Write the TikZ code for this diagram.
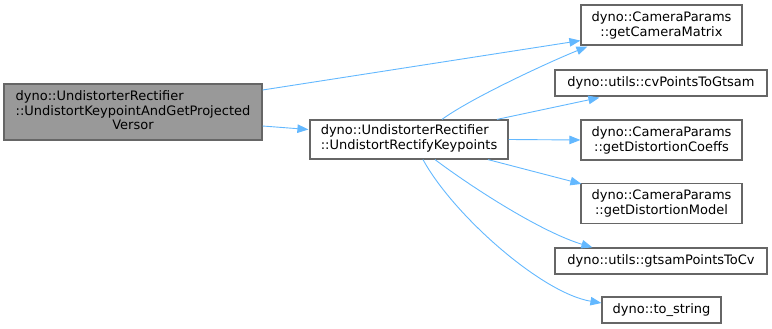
\documentclass[tikz,border=0pt]{standalone}
\usepackage{fontspec}
\setmainfont{DejaVu Sans}
\usetikzlibrary{arrows.meta,calc}
\definecolor{edgeblue}{HTML}{63B8FF}
\definecolor{boxline}{HTML}{666666}
\definecolor{startfill}{HTML}{999999}

\begin{document}
\begin{tikzpicture}[x=1pt,y=-1pt,
  fn/.style={draw=boxline,line width=1.2pt,fill=white,inner sep=0pt,
    font=\fontsize{13}{15}\selectfont,align=center},
  call/.style={draw=edgeblue,line width=0.9pt,
    -{Triangle[length=11pt,width=8.5pt]}}]
\useasboundingbox (0,0) rectangle (772,329);

% caller and callee boxes
\node[fn,fill=startfill,minimum width=258pt,minimum height=56pt] (start) at (133,112)
  {\begin{tabular}{@{}l@{}}dyno::UndistorterRectifier\\::UndistortKeypointAndGetProjected\\\multicolumn{1}{@{}c@{}}{Versor}\end{tabular}};
\node[fn,minimum width=198pt,minimum height=39pt] (mid) at (409,139.5)
  {\begin{tabular}{@{}l@{}}dyno::UndistorterRectifier\\\multicolumn{1}{@{}c@{}}{::UndistortRectifyKeypoints}\end{tabular}};
\node[fn,minimum width=161pt,minimum height=40pt] (cam) at (661.5,25)
  {dyno::CameraParams\\::getCameraMatrix};
\node[fn,minimum width=212pt,minimum height=26pt] (cv) at (661,83)
  {dyno::utils::cvPointsToGtsam};
\node[fn,minimum width=161pt,minimum height=40pt] (coeffs) at (661.5,140)
  {dyno::CameraParams\\::getDistortionCoeffs};
\node[fn,minimum width=161pt,minimum height=40pt] (model) at (661.5,203.5)
  {dyno::CameraParams\\::getDistortionModel};
\node[fn,minimum width=212pt,minimum height=26pt] (gts) at (661,261)
  {dyno::utils::gtsamPointsToCv};
\node[fn,minimum width=119pt,minimum height=26pt] (tostr) at (661.5,310)
  {dyno::to\_string};

% call edges
\draw[call] ($(start.east)+(0,-22)$) -- ($(cam.south west)+(0,-5)$);
\draw[call] ($(start.east)+(0,14)$) -- ($(mid.west)+(-1,-10)$);
\draw[call] ($(mid.north)+(33,0)$) .. controls +(30,-22) and +(-35,14) .. ($(cam.south west)+(7,1)$);
\draw[call] ($(mid.north)+(88,0)$) -- ($(cv.south west)+(45,1)$);
\draw[call] (mid.east) -- (coeffs.west);
\draw[call] ($(mid.south)+(79,0)$) -- ($(model.north west)+(1,1)$);
\draw[call] ($(mid.south)+(26,0)$) .. controls +(40,30) and +(-50,-15) .. ($(gts.north west)+(38,0)$);
\draw[call] ($(mid.south)+(14,0)$) .. controls +(30,55) and +(-60,-10) .. ($(tostr.west)+(0,-7)$);
\end{tikzpicture}
\end{document}
